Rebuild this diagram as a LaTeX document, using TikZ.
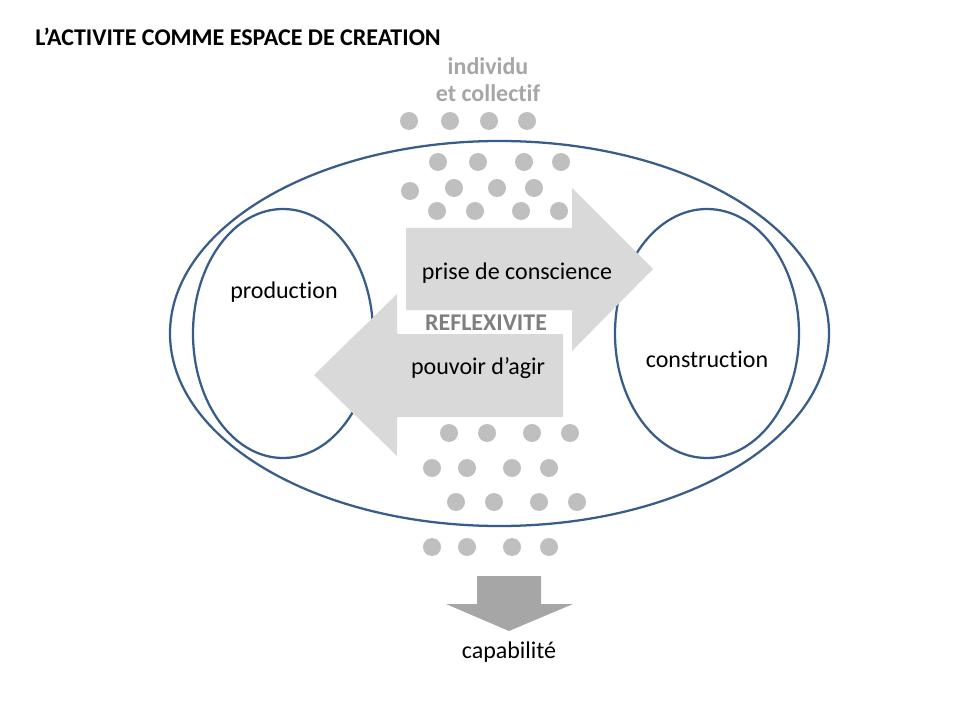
\documentclass[tikz,border=0pt]{standalone}
\usepackage{fontspec}
\setmainfont{Carlito}[Ligatures = NoCommon, RawFeature = {-calt}]
\definecolor{ringblue}{RGB}{56,93,138}
\definecolor{dotgray}{RGB}{191,191,191}
\definecolor{labelgray}{RGB}{166,166,166}
\definecolor{arrowgray}{RGB}{217,217,217}
\definecolor{reflexgray}{RGB}{127,127,127}
\tikzset{
	ring/.style = {draw = ringblue, line width = 1.7pt},
	dot/.style = {circle, fill = dotgray, minimum size = 13.5pt, inner sep = 0pt},
	txt/.style = {font = \fontsize{18}{21.6}\selectfont, inner sep = 0pt}
}
\begin{document}
\begin{tikzpicture}[x = 0.75pt, y = -0.75pt]
					\useasboundingbox (0, 0) rectangle (960, 720);

					\coordinate (a1) at (406, 228);
					\coordinate (a2) at (572, 228);
					\coordinate (a3) at (572, 188);
					\coordinate (a4) at (653, 269);
					\coordinate (a5) at (572, 351);
					\coordinate (a6) at (572, 310);
					\coordinate (a7) at (406, 310);

					\coordinate (b1) at (563, 334);
					\coordinate (b2) at (397, 334);
					\coordinate (b3) at (397, 294);
					\coordinate (b4) at (314, 375);
					\coordinate (b5) at (397, 456);
					\coordinate (b6) at (397, 417);
					\coordinate (b7) at (563, 417);

					\coordinate (c1) at (477, 576);
					\coordinate (c2) at (541, 576);
					\coordinate (c3) at (541, 604);
					\coordinate (c4) at (573, 604);
					\coordinate (c5) at (509, 631);
					\coordinate (c6) at (446, 604);
					\coordinate (c7) at (477, 604);

					\draw [ring] (499.5, 333.5) ellipse [x radius = 329.5, y radius = 192.5];
					\draw [ring] (283, 333.5) ellipse [x radius = 90, y radius = 124.5];
					\draw [ring] (707, 333.5) ellipse [x radius = 92, y radius = 124.5];

					\fill [arrowgray] (a1) -- (a2) -- (a3) -- (a4) -- (a5) -- (a6) -- (a7) -- cycle;
					\fill [arrowgray] (b1) -- (b2) -- (b3) -- (b4) -- (b5) -- (b6) -- (b7) -- cycle;
					\fill [labelgray] (c1) -- (c2) -- (c3) -- (c4) -- (c5) -- (c6) -- (c7) -- cycle;

					\node [dot] (d1) at (409, 121) {};
					\node [dot] (d2) at (450, 121) {};
					\node [dot] (d3) at (489, 121) {};
					\node [dot] (d4) at (527, 121) {};
					\node [dot] (d5) at (438, 162) {};
					\node [dot] (d6) at (478, 162) {};
					\node [dot] (d7) at (524, 162) {};
					\node [dot] (d8) at (561, 162) {};
					\node [dot] (d9) at (410, 191) {};
					\node [dot] (d10) at (454, 188) {};
					\node [dot] (d11) at (497, 188) {};
					\node [dot] (d12) at (534, 188) {};
					\node [dot] (d13) at (437, 211) {};
					\node [dot] (d14) at (475, 211) {};
					\node [dot] (d15) at (521, 211) {};
					\node [dot] (d16) at (559, 211) {};
					\node [dot] (d17) at (449, 433) {};
					\node [dot] (d18) at (487, 433) {};
					\node [dot] (d19) at (532, 433) {};
					\node [dot] (d20) at (570, 433) {};
					\node [dot] (d21) at (432, 468) {};
					\node [dot] (d22) at (467, 468) {};
					\node [dot] (d23) at (512, 468) {};
					\node [dot] (d24) at (549, 468) {};
					\node [dot] (d25) at (456, 502) {};
					\node [dot] (d26) at (494, 502) {};
					\node [dot] (d27) at (539, 502) {};
					\node [dot] (d28) at (577, 502) {};
					\node [dot] (d29) at (432, 547) {};
					\node [dot] (d30) at (467, 547) {};
					\node [dot] (d31) at (512, 547) {};
					\node [dot] (d32) at (549, 547) {};

					\node [txt, anchor = base west, font = \fontsize{18}{21.6}\selectfont\bfseries] (title) at (35, 46) {L’ACTIVITE COMME ESPACE DE CREATION};
					\node [txt, text = labelgray, font = \fontsize{18}{21.6}\selectfont\bfseries] (ind) at (488, 66) {individu};
					\node [txt, text = labelgray, font = \fontsize{18}{21.6}\selectfont\bfseries] (coll) at (488, 93) {et collectif};
					\node [txt] (prod) at (284, 292) {production};
					\node [txt] (cons) at (707, 359) {construction};
					\node [txt] (prise) at (517, 273) {prise de conscience};
					\node [txt, text = reflexgray, font = \fontsize{18}{21.6}\selectfont\bfseries] (refl) at (486, 323) {REFLEXIVITE};
					\node [txt] (pouv) at (478, 368) {pouvoir d’agir};
					\node [txt] (capa) at (509, 652) {capabilité};
				\end{tikzpicture}
\end{document}
